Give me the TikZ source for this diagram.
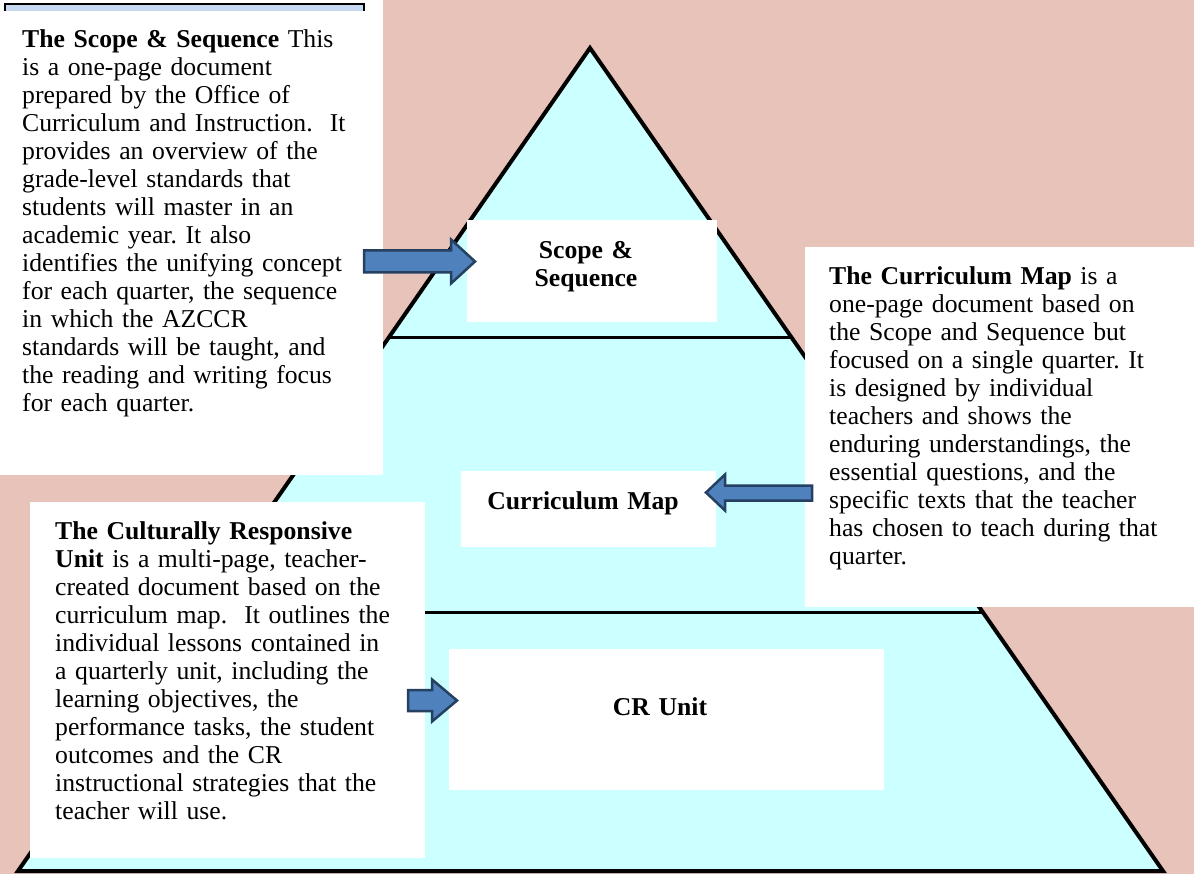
\documentclass[tikz,border=0pt]{standalone}
\usepackage{fontspec}
\setmainfont{Liberation Serif}
\usetikzlibrary{calc}
\definecolor{bgpink}{RGB}{231,195,185}
\definecolor{cyanfill}{RGB}{204,255,255}
\definecolor{arrowfill}{RGB}{79,129,189}
\definecolor{arrowline}{RGB}{37,64,97}
\definecolor{barblue}{RGB}{198,217,241}
\frenchspacing
\begin{document}
\begin{tikzpicture}[x=1pt,y=-1pt,
  box/.style={draw=none,fill=white,rectangle,inner sep=0pt,outer sep=0pt,anchor=north west},
  txt/.style={anchor=base west,inner sep=0pt,text width=420pt,align=left,font=\fontsize{25.7}{28}\selectfont},
  lbl/.style={inner sep=0pt,anchor=base,text width=300pt,align=center,font=\fontsize{25.7}{28}\selectfont\bfseries},
  blockarrow/.style={fill=arrowfill,draw=arrowline,line width=2.5pt,line join=miter},
  pyredge/.style={line width=4pt,line join=miter},
  divider/.style={line width=3pt}
]
\useasboundingbox (0,0) rectangle (1194,874);
\fill[bgpink] (0,0) rectangle (1194,874);

% pyramid
\coordinate (apex) at (590,48);
\coordinate (bl) at (18,871);
\coordinate (br) at (1163,871);
\filldraw[pyredge,fill=cyanfill] (apex) -- (br) -- (bl) -- cycle;
\coordinate (d1l) at ($(apex)!0.3512!(bl)$);
\coordinate (d1r) at ($(apex)!0.3512!(br)$);
\coordinate (d2l) at ($(apex)!0.6853!(bl)$);
\coordinate (d2r) at ($(apex)!0.6853!(br)$);
\draw[divider] (d1l) -- (d1r);
\draw[divider] (d2l) -- (d2r);

% top-left boxes
\node[box,minimum width=383pt,minimum height=12pt] (topwhite) at (0,0) {};
\node[box,fill=barblue,draw=black,line width=1.5pt,minimum width=359pt,minimum height=30pt] (bar) at (5,4) {};
\node[box,minimum width=383pt,minimum height=464pt] (ssbox) at (0,11) {};

% label boxes
\node[box,minimum width=250pt,minimum height=102pt] (sslabel) at (467,220) {};
\node[box,minimum width=255pt,minimum height=76pt] (cmlabel) at (461,471) {};
\node[box,minimum width=435pt,minimum height=141pt] (crlabel) at (449,649) {};

% other text boxes
\node[box,minimum width=389pt,minimum height=360pt] (cmbox) at (805,247) {};
\node[box,minimum width=395pt,minimum height=356pt] (crbox) at (30,502) {};

% label texts
\node[lbl] (sstitle) at (586,259) {Scope \&\\Sequence};
\node[lbl] (cmtitle) at (583,509) {Curriculum Map};
\node[lbl] (crtitle) at (660,715) {CR Unit};

% description texts
\node[txt] (sstext) at (22,48) {\textbf{The Scope \& Sequence} This\\
is a one-page document\\
prepared by the Office of\\
Curriculum and Instruction.\ \ It\\
provides an overview of the\\
grade-level standards that\\
students will master in an\\
academic year. It also\\
identifies the unifying concept\\
for each quarter, the sequence\\
in which the AZCCR\\
standards will be taught, and\\
the reading and writing focus\\
for each quarter.};

\node[txt] (cmtext) at (829,285) {\textbf{The Curriculum Map} is a\\
one-page document based on\\
the Scope and Sequence but\\
focused on a single quarter. It\\
is designed by individual\\
teachers and shows the\\
enduring understandings, the\\
essential questions, and the\\
specific texts that the teacher\\
has chosen to teach during that\\
quarter.};

\node[txt] (crtext) at (55,539) {\textbf{The Culturally Responsive}\\
\textbf{Unit} is a multi-page, teacher-\\
created document based on the\\
curriculum map.\ \ It outlines the\\
individual lessons contained in\\
a quarterly unit, including the\\
learning objectives, the\\
performance tasks, the student\\
outcomes and the CR\\
instructional strategies that the\\
teacher will use.};

% block arrows
\draw[blockarrow] (364,250.5) -- (451,250.5) -- (451,239.5) -- (475,261.5) -- (451,283.5) -- (451,272.5) -- (364,272.5) -- cycle;
\draw[blockarrow] (812,485.5) -- (725,485.5) -- (725,474.5) -- (706,492.5) -- (725,510.5) -- (725,500.5) -- (812,500.5) -- cycle;
\draw[blockarrow] (408,690) -- (432,690) -- (432,679.5) -- (457,700.5) -- (432,721.5) -- (432,711) -- (408,711) -- cycle;
\end{tikzpicture}
\end{document}
